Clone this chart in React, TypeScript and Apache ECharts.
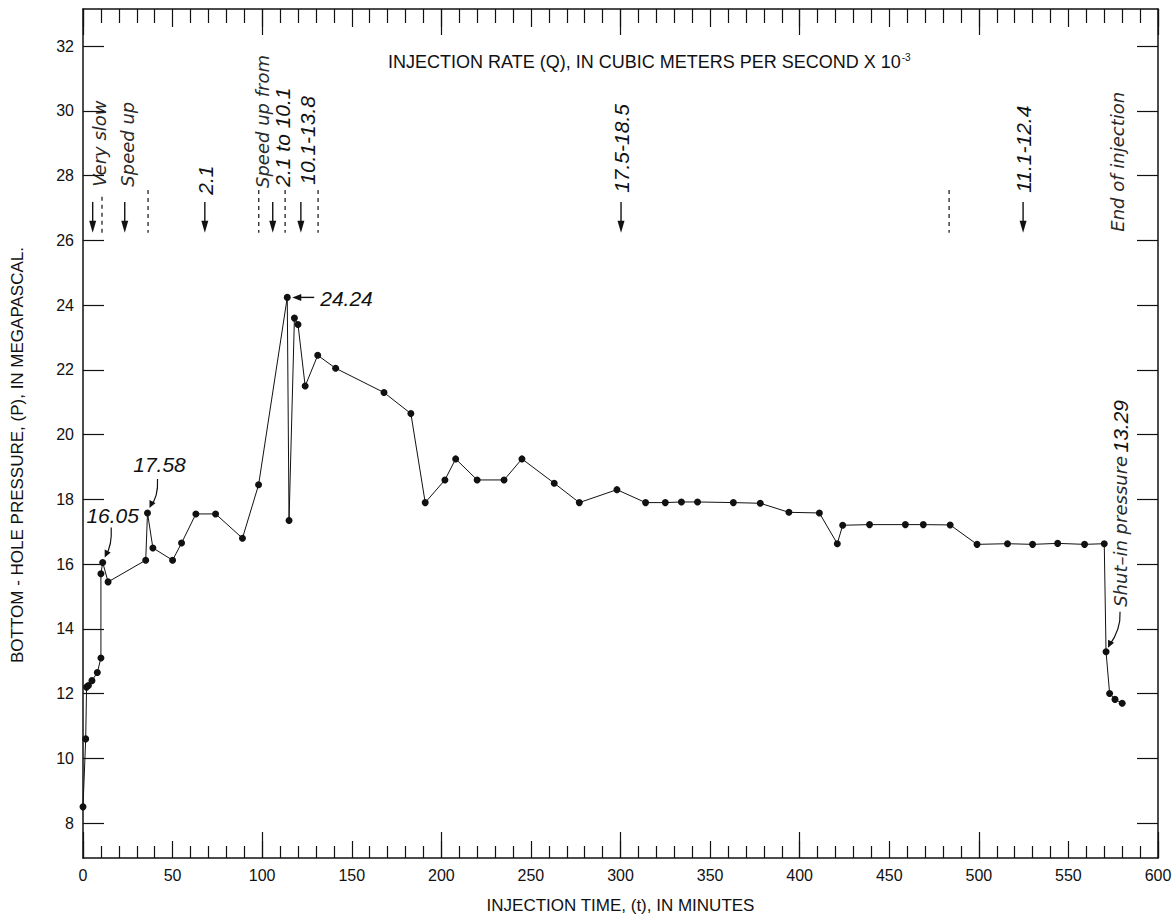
import React, { useEffect, useRef } from 'react';
import * as echarts from 'echarts';

// Injection time (minutes) and bottom-hole pressure (MPa)
const timeMin = [
  0, 1.5, 2, 3, 5, 8, 10, 10, 11, 14, 35, 36, 39, 50, 55, 63, 74, 89, 98, 114,
  115, 118, 120, 124, 131, 141, 168, 183, 191, 202, 208, 220, 235, 245, 263, 277,
  298, 314, 325, 334, 343, 363, 378, 394, 411, 421, 424, 439, 459, 469, 484, 499,
  516, 530, 544, 559, 570, 571, 573, 576, 580,
];
const pressureMPa = [
  8.5, 10.6, 12.2, 12.25, 12.4, 12.65, 13.1, 15.7, 16.05, 15.45, 16.12, 17.58, 16.5,
  16.12, 16.65, 17.55, 17.55, 16.8, 18.45, 24.24, 17.35, 23.6, 23.4, 21.5, 22.45,
  22.05, 21.3, 20.65, 17.9, 18.6, 19.25, 18.6, 18.6, 19.25, 18.5, 17.9, 18.3, 17.9,
  17.9, 17.92, 17.92, 17.9, 17.88, 17.6, 17.58, 16.63, 17.2, 17.22, 17.22, 17.22,
  17.21, 16.61, 16.63, 16.61, 16.64, 16.61, 16.63, 13.29, 12.0, 11.82, 11.7,
];
const yTickValues = [8, 10, 12, 14, 16, 18, 20, 22, 24, 26, 28, 30, 32];

// Injection-rate annotations (time positions in minutes, heights in MPa)
const rateArrowTimes = [5.4, 23.3, 68, 105.9, 121.6, 300.3, 524.7];
const rateDividerTimes = [10.6, 36.3, 98.1, 112.8, 131.2, 483.4];
const rateDividerTops = [27.35, 27.56, 27.56, 27.56, 27.56, 27.56];
const rateLabels = ['Very slow', 'Speed up', '2.1', 'Speed up from', '2.1 to 10.1', '10.1-13.8', '17.5-18.5', '11.1-12.4', 'End of injection'];
const rateLabelTimes = [9.3, 24.7, 68.4, 100.1, 111.5, 125.2, 300.3, 524.7, 577.2];
const rateLabelBase = [27.66, 27.66, 27.41, 27.62, 27.66, 27.72, 27.47, 27.47, 26.27];
const rateLabelKind = ['word', 'word', 'num', 'word', 'num', 'num', 'num', 'num', 'word'];

const Y_MIN = 6.92;
const Y_MAX = 33.15;
const INK = '#111';
const WORD_INK = '#2a2a2a';
const SANS = '"Liberation Sans", Arial, Helvetica, sans-serif';
const WORD_FAMILY = '"DejaVu Sans", sans-serif';
const WORD_FONT = `italic 200 18px ${WORD_FAMILY}`;
const NUM_FONT = 'italic 21px "Liberation Sans", Arial, sans-serif';

export default function App() {
  const ref = useRef<HTMLDivElement>(null);
  useEffect(() => {
    const chart = echarts.init(ref.current as HTMLDivElement, null, { renderer: 'svg' });
    const tickStyle = { color: INK, width: 1.2 };
    const xBase = {
      type: 'value', min: 0, max: 600,
      splitLine: { show: false }, minorSplitLine: { show: false },
    };
    const yBase = {
      type: 'value', min: Y_MIN, max: Y_MAX,
      splitLine: { show: false },
      axisLine: { show: true, onZero: false, lineStyle: { color: INK, width: 1.5 } },
      axisTick: { show: true, inside: true, length: 21, customValues: yTickValues, lineStyle: tickStyle },
    };
    chart.setOption({
      animation: false,
      backgroundColor: '#fff',
      grid: { left: 83, right: 18, top: 9, bottom: 59, containLabel: false },
      xAxis: [
        {
          ...xBase, position: 'bottom', interval: 50,
          axisLine: { show: true, onZero: false, lineStyle: { color: INK, width: 1.5 } },
          axisTick: { show: true, inside: true, length: 17, lineStyle: tickStyle },
          minorTick: { show: true, splitNumber: 5, length: 12, lineStyle: tickStyle },
          axisLabel: { show: true, margin: 9, color: INK, fontSize: 16, fontFamily: SANS },
          name: 'INJECTION TIME, (t), IN MINUTES', nameLocation: 'middle', nameGap: 39,
          nameTextStyle: { color: INK, fontSize: 17, fontFamily: SANS },
        },
        {
          ...xBase, position: 'bottom', interval: 100,
          axisLine: { show: false },
          axisTick: { show: true, inside: true, length: 26, lineStyle: tickStyle },
          axisLabel: { show: false },
        },
        {
          ...xBase, position: 'top', interval: 50,
          axisLine: { show: true, onZero: false, lineStyle: { color: INK, width: 1.5 } },
          axisTick: { show: true, inside: true, length: 18, lineStyle: tickStyle },
          minorTick: { show: true, splitNumber: 5, length: 14, lineStyle: tickStyle },
          axisLabel: { show: false },
        },
        {
          ...xBase, position: 'top', interval: 100,
          axisLine: { show: false },
          axisTick: { show: true, inside: true, length: 26, lineStyle: tickStyle },
          axisLabel: { show: false },
        },
      ],
      yAxis: [
        {
          ...yBase, position: 'left',
          axisLabel: { show: true, customValues: yTickValues, margin: 9, color: INK, fontSize: 16, fontFamily: SANS },
        },
        {
          ...yBase, position: 'right',
          axisLabel: { show: false },
        },
      ],
      series: [
        {
          type: 'line',
          xAxisIndex: 0, yAxisIndex: 0,
          data: timeMin.map((t, i) => [t, pressureMPa[i]]),
          symbol: 'circle', symbolSize: 7, showSymbol: true,
          itemStyle: { color: INK },
          lineStyle: { color: INK, width: 1 },
          z: 5,
        },
      ],
    });

    const px = (t: number, v: number) => chart.convertToPixel({ gridIndex: 0 }, [t, v]) as number[];
    const g: any[] = [];

    // rate arrows
    rateArrowTimes.forEach((t) => {
      const a = px(t, 27.19);
      const b = px(t, 26.24);
      g.push({ type: 'line', shape: { x1: a[0], y1: a[1], x2: b[0], y2: b[1] - 8 }, style: { stroke: INK, lineWidth: 1.4 } });
      g.push({ type: 'polygon', shape: { points: [[b[0] - 3.5, b[1] - 12], [b[0] + 3.5, b[1] - 12], [b[0], b[1]]] }, style: { fill: INK } });
    });
    // dashed dividers
    rateDividerTimes.forEach((t, i) => {
      const a = px(t, rateDividerTops[i]);
      const b = px(t, 26.24);
      g.push({ type: 'line', shape: { x1: a[0], y1: a[1], x2: b[0], y2: b[1] }, style: { stroke: INK, lineWidth: 1.2, lineDash: [4, 4] } });
    });
    // rotated rate labels
    rateLabels.forEach((txt, i) => {
      const word = rateLabelKind[i] === 'word';
      const p = px(rateLabelTimes[i], rateLabelBase[i]);
      g.push({
        type: 'text', x: p[0], y: p[1], rotation: Math.PI / 2,
        style: {
          text: txt, fill: word ? WORD_INK : INK, font: word ? WORD_FONT : NUM_FONT,
          align: 'left', verticalAlign: 'middle', textAlign: 'left', textVerticalAlign: 'middle',
        },
      });
    });

    // shut-in pressure
    const s = px(timeMin[57], pressureMPa[57]);
    g.push({
      type: 'text', x: s[0] + 14, y: s[1] - 45, rotation: Math.PI / 2,
      style: {
        text: '{a|Shut–in pressure} {b|13.29}', fill: INK, align: 'left', verticalAlign: 'middle',
        textAlign: 'left', textVerticalAlign: 'middle',
        rich: {
          a: { fontStyle: 'italic', fontWeight: 200, fontSize: 18, fontFamily: WORD_FAMILY, fill: WORD_INK },
          b: { fontStyle: 'italic', fontSize: 21, fontFamily: SANS, fill: INK },
        },
      },
    });
    g.push({ type: 'bezierCurve', shape: { x1: s[0] + 14, y1: s[1] - 40, cpx1: s[0] + 15, cpy1: s[1] - 22, x2: s[0] + 3, y2: s[1] - 6 }, style: { stroke: INK, lineWidth: 1.2, fill: null } });
    g.push({ type: 'polygon', shape: { points: [[s[0] + 2, s[1] - 4], [s[0] + 2, s[1] - 12], [s[0] + 8, s[1] - 9]] }, style: { fill: INK } });

    // peak label 24.24
    const pk = px(timeMin[19], pressureMPa[19]);
    g.push({ type: 'line', shape: { x1: pk[0] + 27, y1: pk[1], x2: pk[0] + 12, y2: pk[1] }, style: { stroke: INK, lineWidth: 1.4 } });
    g.push({ type: 'polygon', shape: { points: [[pk[0] + 5, pk[1]], [pk[0] + 14, pk[1] - 3.5], [pk[0] + 14, pk[1] + 3.5]] }, style: { fill: INK } });
    g.push({ type: 'text', x: pk[0] + 33, y: pk[1] + 1, style: { text: '24.24', fill: INK, font: NUM_FONT, align: 'left', verticalAlign: 'middle', textAlign: 'left', textVerticalAlign: 'middle' } });

    // 17.58 label
    const q = px(timeMin[11], pressureMPa[11]);
    g.push({ type: 'text', x: q[0] + 12, y: q[1] - 48, style: { text: '17.58', fill: INK, font: NUM_FONT, align: 'center', verticalAlign: 'middle', textAlign: 'center', textVerticalAlign: 'middle' } });
    g.push({ type: 'bezierCurve', shape: { x1: q[0] + 10, y1: q[1] - 34, cpx1: q[0] + 11, cpy1: q[1] - 16, x2: q[0] + 3, y2: q[1] - 7 }, style: { stroke: INK, lineWidth: 1.2, fill: null } });
    g.push({ type: 'polygon', shape: { points: [[q[0] + 2, q[1] - 5], [q[0] + 2, q[1] - 13], [q[0] + 8, q[1] - 10]] }, style: { fill: INK } });

    // 16.05 label
    const r = px(timeMin[8], pressureMPa[8]);
    g.push({ type: 'text', x: r[0] + 10, y: r[1] - 47, style: { text: '16.05', fill: INK, font: NUM_FONT, align: 'center', verticalAlign: 'middle', textAlign: 'center', textVerticalAlign: 'middle' } });
    g.push({ type: 'bezierCurve', shape: { x1: r[0] + 8.5, y1: r[1] - 35, cpx1: r[0] + 9.5, cpy1: r[1] - 17, x2: r[0] + 3, y2: r[1] - 7 }, style: { stroke: INK, lineWidth: 1.2, fill: null } });
    g.push({ type: 'polygon', shape: { points: [[r[0] + 2, r[1] - 5], [r[0] + 2, r[1] - 13], [r[0] + 8, r[1] - 10]] }, style: { fill: INK } });

    // top title
    g.push({
      type: 'text', x: 388, y: 62,
      style: {
        text: '{t|INJECTION RATE (Q), IN CUBIC METERS PER SECOND X 10}{s|-3}', fill: INK,
        align: 'left', verticalAlign: 'middle', textAlign: 'left', textVerticalAlign: 'middle',
        rich: {
          t: { fontSize: 18, fontFamily: SANS, fill: INK, lineHeight: 20 },
          s: { fontSize: 10, fontFamily: SANS, fill: INK, verticalAlign: 'top', lineHeight: 20, padding: [0, 0, 0, 1] },
        },
      },
    });
    // y axis title
    g.push({
      type: 'text', x: 17, y: 455, rotation: Math.PI / 2,
      style: {
        text: 'BOTTOM - HOLE PRESSURE, (P), IN MEGAPASCAL.', fill: INK, font: `17px ${SANS}`,
        align: 'center', verticalAlign: 'middle', textAlign: 'center', textVerticalAlign: 'middle',
      },
    });

    chart.setOption({ graphic: g });
    return () => chart.dispose();
  }, []);
  return (
    <div
      ref={ref}
      style={{ position: 'absolute', left: 0, top: 0, width: 1176, height: 919, background: '#fff' }}
    />
  );
}
